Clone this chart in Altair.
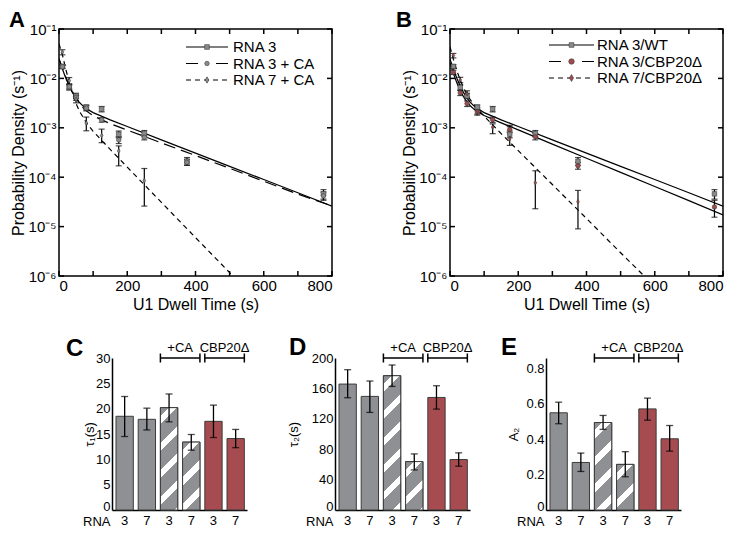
import altair as alt
import pandas as pd

FONT = "Liberation Sans"
GRAY = "#8e9093"
RED_BAR = "#a64c50"
RED_PT = "#a04a4c"
PT_GRAY = "#8a8a8a"
EDGE = "#3c3c3c"

# ---------------- data: panels A and B (binned dwell-time densities) ----------------
bin_t = [10, 30, 50, 80, 125, 175, 250, 375, 775]
bin_t7a = [10, 30, 50, 80, 125, 175, 250]
bin_t7b = [10, 30, 50, 80, 125, 175, 250, 375]

rna3_p = [0.0175, 0.0066, 0.0044, 0.0026, 0.0024, 0.00074, 0.00077, 0.00021, 0.000046]
rna3_lo = [0.0160, 0.0058, 0.0039, 0.0023, 0.0021, 0.00063, 0.00066, 0.000175, 0.000036]
rna3_hi = [0.0190, 0.0074, 0.0050, 0.0029, 0.0027, 0.00086, 0.00088, 0.00025, 0.000056]

rna3ca_p = [0.0172, 0.0068, 0.0041, 0.0025, 0.00145, 0.00057, 0.00064, 0.00020, 0.000042]
rna3ca_lo = [0.0158, 0.0061, 0.0036, 0.0022, 0.00130, 0.00048, 0.00057, 0.000175, 0.000034]
rna3ca_hi = [0.0186, 0.0075, 0.0046, 0.0028, 0.00160, 0.00066, 0.00072, 0.000230, 0.000050]

rna7ca_p = [0.034, 0.0090, 0.0038, 0.00125, 0.00070, 0.00034, 0.000085]
rna7ca_lo = [0.030, 0.0078, 0.0032, 0.00087, 0.00050, 0.00017, 0.000026]
rna7ca_hi = [0.038, 0.0104, 0.0045, 0.00165, 0.00094, 0.00043, 0.000150]

cbp3_p = [0.0133, 0.0051, 0.0031, 0.0021, 0.00146, 0.00092, 0.00066, 0.000170, 0.000025]
cbp3_lo = [0.0120, 0.0045, 0.0027, 0.0018, 0.00128, 0.00080, 0.00057, 0.000145, 0.0000155]
cbp3_hi = [0.0146, 0.0057, 0.0035, 0.0024, 0.00165, 0.00105, 0.00076, 0.000200, 0.000034]

cbp7_p = [0.029, 0.0093, 0.0049, 0.0022, 0.00103, 0.00060, 0.000077, 0.000032]
cbp7_lo = [0.026, 0.0082, 0.0042, 0.0019, 0.00076, 0.00044, 0.000023, 0.0000090]
cbp7_hi = [0.032, 0.0105, 0.0056, 0.0026, 0.00120, 0.00112, 0.000135, 0.000054]

# fitted curves
fit_t = [0, 10, 20, 30, 40, 50, 60, 70, 80, 100, 150, 200, 300, 400, 500, 600, 700, 800]
rna3_fit = [0.0246, 0.0155, 0.0101, 0.0070, 0.0051, 0.0040, 0.00325, 0.00278, 0.00246, 0.00203,
            0.00145, 0.00106, 0.00057, 0.000308, 0.000166, 0.0000897, 0.0000484, 0.000026]
rna3ca_fit = [0.0249, 0.0161, 0.0107, 0.0073, 0.0053, 0.0040, 0.00313, 0.00257, 0.00220, 0.00175,
              0.00121, 0.00090, 0.000495, 0.000275, 0.000151, 0.0000828, 0.0000455, 0.0000262]
cbp3_fit = [0.0204, 0.0126, 0.0082, 0.0057, 0.0042, 0.0033, 0.00276, 0.00239, 0.00213, 0.00178,
            0.00126, 0.000906, 0.000468, 0.000242, 0.000125, 0.0000647, 0.0000335, 0.0000173]
rna7ca_fit_t = [0, 10, 20, 30, 40, 50, 60, 80, 100, 150, 200, 300, 400, 500, 515]
rna7ca_fit = [0.050, 0.030, 0.0153, 0.0083, 0.0048, 0.0031, 0.00216, 0.00127, 0.00085, 0.000365,
              0.00016, 0.000031, 0.0000060, 0.00000117, 0.0000009]
cbp7_fit_t = [0, 10, 20, 30, 40, 50, 60, 70, 80, 100, 150, 200, 300, 400, 500, 575]
cbp7_fit = [0.0433, 0.0242, 0.0144, 0.0092, 0.0064, 0.0047, 0.00366, 0.00295, 0.00243, 0.00172,
            0.00076, 0.000345, 0.000071, 0.0000146, 0.00000295, 0.00000091]

legend_a = ["RNA 3", "RNA 3 + CA", "RNA 7 + CA"]
legend_b = ["RNA 3/WT", "RNA 3/CBP20Δ", "RNA 7/CBP20Δ"]

x_ticks = [0, 100, 200, 300, 400, 500, 600, 700, 800]
x_labels = [0, 200, 400, 600, 800]
y_decades = [1e-6, 1e-5, 1e-4, 1e-3, 1e-2, 1e-1]

# ---------------- data: panels C, D, E ----------------
groups = ["3", "7", "3+CA", "7+CA", "3Δ", "7Δ"]
kinds = ["plain", "plain", "hatch", "hatch", "red", "red"]

tau1 = [18.5, 17.9, 20.2, 13.4, 17.5, 14.1]
tau1_lo = [14.5, 15.8, 17.4, 11.8, 14.3, 12.3]
tau1_hi = [22.4, 20.1, 22.9, 14.9, 20.7, 15.9]

tau2 = [165.7, 149.5, 176.7, 63.7, 148.1, 66.4]
tau2_lo = [147.7, 128.4, 162.6, 52.7, 132.7, 57.6]
tau2_hi = [184.6, 169.7, 190.8, 73.8, 163.5, 75.2]

a2 = [0.55, 0.269, 0.495, 0.258, 0.572, 0.403]
a2_lo = [0.488, 0.218, 0.456, 0.188, 0.508, 0.333]
a2_hi = [0.61, 0.322, 0.535, 0.33, 0.633, 0.478]

brk_label = ["+CA", "CBP20Δ"]
brk_start = ["3+CA", "3Δ"]
brk_end = ["7+CA", "7Δ"]

# ---------------- geometry / style ----------------
W_TOP, H_TOP = 273, 247
BAR_W, BAR_H = 135, 152
PAD_IN, PAD_OUT, ALIGN = 0.22, 0.15, 0.6
STEP = BAR_W / (len(groups) - PAD_IN + 2 * PAD_OUT)
BW = STEP * (1 - PAD_IN)
GAP = STEP * PAD_IN

XS_TOP = alt.Scale(domain=[0, 800], nice=False, zero=False)
YS_TOP = alt.Scale(type="log", domain=[1e-6, 1e-1], nice=False)
XT = "U1 Dwell Time (s)"
YT = "Probability Density (s⁻¹)"
DIAMOND = "M0,-1L0.6,0L0,1L-0.6,0Z"

dummy = pd.DataFrame({"k": [0]})

points_a = [
    {"name": legend_a[0], "t": bin_t, "p": rna3_p, "lo": rna3_lo, "hi": rna3_hi,
     "shape": "square", "fill": PT_GRAY, "size": 22, "ew": 1.2},
    {"name": legend_a[1], "t": bin_t, "p": rna3ca_p, "lo": rna3ca_lo, "hi": rna3ca_hi,
     "shape": "circle", "fill": PT_GRAY, "size": 20, "ew": 1.2},
    {"name": legend_a[2], "t": bin_t7a, "p": rna7ca_p, "lo": rna7ca_lo, "hi": rna7ca_hi,
     "shape": DIAMOND, "fill": PT_GRAY, "size": 40, "ew": 1.4},
]
points_b = [
    {"name": legend_b[0], "t": bin_t, "p": rna3_p, "lo": rna3_lo, "hi": rna3_hi,
     "shape": "square", "fill": PT_GRAY, "size": 22, "ew": 1.2},
    {"name": legend_b[1], "t": bin_t, "p": cbp3_p, "lo": cbp3_lo, "hi": cbp3_hi,
     "shape": "circle", "fill": RED_PT, "size": 30, "ew": 1.2},
    {"name": legend_b[2], "t": bin_t7b, "p": cbp7_p, "lo": cbp7_lo, "hi": cbp7_hi,
     "shape": DIAMOND, "fill": RED_PT, "size": 48, "ew": 2.0},
]
ALL_PTS = points_a + points_b
ALL_NAMES = [s["name"] for s in ALL_PTS]


def sc(key):
    return alt.Scale(domain=ALL_NAMES, range=[s[key] for s in ALL_PTS])


def density_panel(points, fits, legend_rows, lg, letter, letter_x, letter_y):
    pts = pd.concat([pd.DataFrame({"series": s["name"], "t": s["t"], "p": s["p"],
                                   "lo": s["lo"], "hi": s["hi"]}) for s in points])

    x_axis = alt.Axis(values=x_labels, tickCount=len(x_labels), ticks=False, tickSize=0, domain=False,
                      grid=False, labelFontSize=15, labelPadding=2, titleFontSize=16,
                      titleFontWeight="normal", titlePadding=3)
    y_axis = alt.Axis(values=y_decades, tickCount=len(y_decades), ticks=False, tickSize=0, domain=False,
                      grid=False,
                      labelExpr="'10⁻' + ['⁰','¹','²','³','⁴','⁵','⁶'][round(-log(datum.value)/LN10)]",
                      labelFontSize=15, labelPadding=3, titleFontSize=16,
                      titleFontWeight="normal", titleX=-41, titleY=H_TOP / 2, titleAngle=270,
                      titleBaseline="middle", titleAlign="center")

    def X(f, **kw):
        return alt.X(f, scale=XS_TOP, title=XT, **kw)

    def Y(f, **kw):
        return alt.Y(f, scale=YS_TOP, title=YT, **kw)

    xt = pd.DataFrame({"t": x_ticks})
    yt = pd.DataFrame({"p": y_decades})
    tk = dict(color="black", strokeWidth=1.5)
    layers = [
        alt.Chart(xt).mark_rule(**tk).encode(x=X("t:Q", axis=x_axis), y=alt.value(H_TOP),
                                             y2=alt.value(H_TOP - 5)),
        alt.Chart(xt).mark_rule(**tk).encode(x=X("t:Q"), y=alt.value(0), y2=alt.value(5)),
        alt.Chart(yt).mark_rule(**tk).encode(y=Y("p:Q", axis=y_axis), x=alt.value(0), x2=alt.value(5)),
        alt.Chart(yt).mark_rule(**tk).encode(y=Y("p:Q"), x=alt.value(W_TOP), x2=alt.value(W_TOP - 5)),
    ]
    for f in fits:
        fdf = pd.DataFrame({"t": f["t"], "p": f["p"]})
        mk = dict(clip=True, color="black", strokeWidth=1.2)
        if f["dash"]:
            mk["strokeDash"] = f["dash"]
        layers.append(alt.Chart(fdf).mark_line(**mk).encode(x=X("t:Q"), y=Y("p:Q")))

    err = alt.Chart(pts).mark_rule(color="black").encode(
        x=X("t:Q"), y=Y("lo:Q"), y2="hi:Q",
        strokeWidth=alt.StrokeWidth("series:N", scale=sc("ew"), legend=None))
    cap_lo = alt.Chart(pts).mark_tick(color="black", orient="horizontal", size=6, thickness=1.2).encode(
        x=X("t:Q"), y=Y("lo:Q"))
    cap_hi = alt.Chart(pts).mark_tick(color="black", orient="horizontal", size=6, thickness=1.2).encode(
        x=X("t:Q"), y=Y("hi:Q"))
    dots = alt.Chart(pts).mark_point(filled=True, opacity=1, stroke=EDGE, strokeWidth=0.6).encode(
        x=X("t:Q"), y=Y("p:Q"),
        shape=alt.Shape("series:N", scale=sc("shape"), legend=None),
        color=alt.Color("series:N", scale=sc("fill"), legend=None),
        size=alt.Size("series:N", scale=sc("size"), legend=None),
    )
    layers += [err, cap_lo, cap_hi, dots]

    for i, (label, s, f) in enumerate(zip(legend_rows, points, lg["dash"])):
        ry = lg["rows"][i]
        mk = dict(color="black", strokeWidth=1.2)
        if f:
            mk["strokeDash"] = f
        layers.append(alt.Chart(dummy).mark_rule(**mk).encode(
            x=alt.value(lg["x0"]), x2=alt.value(lg["x1"]), y=alt.value(ry)))
        layers.append(alt.Chart(dummy).mark_point(filled=True, opacity=1, shape=s["shape"], size=s["size"],
                                                  fill=s["fill"], stroke=EDGE, strokeWidth=0.6).encode(
            x=alt.value((lg["x0"] + lg["x1"]) / 2), y=alt.value(ry)))
        layers.append(alt.Chart(dummy).mark_text(align="left", baseline="middle", fontSize=15, font=FONT,
                                                 color="black").encode(
            x=alt.value(lg["xt"]), y=alt.value(ry), text=alt.value(label)))

    layers.append(alt.Chart(dummy).mark_text(align="left", baseline="alphabetic", fontSize=22,
                                             fontWeight="bold", font=FONT, color="black").encode(
        x=alt.value(letter_x), y=alt.value(letter_y), text=alt.value(letter)))

    return alt.layer(*layers).properties(
        width=W_TOP, height=H_TOP,
        view=alt.ViewBackground(stroke="black", strokeWidth=1.5))


def hatch_gradient(w, h, period=27.0, white=0.32, phase=8.0):
    L = w + h
    k = L / (w * w + h * h)
    stops = [{"offset": 0, "color": GRAY}]
    s = phase - period
    while s < L:
        a, b = s, s + white * period
        if b > 0:
            o1 = round(max(0.0, a / L), 4)
            o2 = round(min(1.0, b / L), 4)
            stops += [{"offset": o1, "color": GRAY}, {"offset": o1, "color": "white"},
                      {"offset": o2, "color": "white"}, {"offset": o2, "color": GRAY}]
        s += period
    stops.append({"offset": 1, "color": GRAY})
    return {"gradient": "linear", "x1": 0, "y1": 0, "x2": round(k * w, 4), "y2": round(k * h, 4),
            "stops": stops}


def bar_panel(vals, lo, hi, dmax, yvals, ytitle, title_x, letter, letter_x, letter_y, ylabel_expr=None):
    df = pd.DataFrame({"g": groups, "v": vals, "lo": lo, "hi": hi, "kind": kinds})
    br = pd.DataFrame({"label": brk_label, "s": brk_start, "e": brk_end})
    xs = alt.Scale(domain=groups, paddingInner=PAD_IN, paddingOuter=PAD_OUT, align=ALIGN)
    ys = alt.Scale(domain=[0, dmax], nice=False, zero=True)
    xax = alt.Axis(labelExpr="slice(datum.value, 0, 1)", labelAngle=0, ticks=False, tickSize=0,
                   domainColor="black", domainWidth=1.5, labelFontSize=13, labelPadding=4,
                   labelOverlap=False,
                   titleAngle=0, titleAlign="right", titleX=-2, titleY=11.5, titleBaseline="middle",
                   titleFontSize=13, titleFontWeight="normal")
    ykw = dict(values=yvals, tickCount=len(yvals), ticks=False, tickSize=0, domainColor="black",
               domainWidth=1.5, labelFontSize=13, labelPadding=2, grid=False, labelOverlap=False,
               labelOffset={"condition": {"test": "datum.value == 0", "value": -3.5}, "value": 0},
               titleX=title_x, titleY=BAR_H / 2,
               titleAngle=270, titleBaseline="middle", titleAlign="center",
               titleFontSize=13, titleFontWeight="normal")
    if ylabel_expr:
        ykw["labelExpr"] = ylabel_expr
    yax = alt.Axis(**ykw)

    def X(f, **kw):
        return alt.X(f, scale=xs, title="RNA", **kw)

    def Y(f, **kw):
        return alt.Y(f, scale=ys, title=ytitle, **kw)

    bars = alt.Chart(df).mark_bar(stroke=EDGE, strokeWidth=1).encode(
        x=X("g:N", axis=xax), y=Y("v:Q", axis=yax),
        fill=alt.Fill("kind:N", scale=alt.Scale(domain=["plain", "hatch", "red"],
                                                range=[GRAY, GRAY, RED_BAR]), legend=None))
    layers = [bars]
    for gid, v, kd in zip(groups, vals, kinds):
        if kd == "hatch":
            h = v / dmax * BAR_H
            layers.append(alt.Chart(df[df["g"] == gid]).mark_bar(
                fill=hatch_gradient(BW, h), stroke=EDGE, strokeWidth=1).encode(x=X("g:N"), y=Y("v:Q")))
    layers.append(alt.Chart(df).mark_rule(color="black", strokeWidth=1.3).encode(
        x=X("g:N"), y=Y("lo:Q"), y2="hi:Q"))
    for f in ["lo:Q", "hi:Q"]:
        layers.append(alt.Chart(df).mark_tick(color="black", orient="horizontal", size=7,
                                              thickness=1.3).encode(x=X("g:N"), y=Y(f)))
    layers.append(alt.Chart(br).mark_rule(color="black", strokeWidth=1.5).encode(
        x=X("s:N", bandPosition=0), x2=alt.X2("e:N", bandPosition=1), y=alt.value(0)))
    layers.append(alt.Chart(br).mark_rule(color="black", strokeWidth=1.5).encode(
        x=X("s:N", bandPosition=0), y=alt.value(-4.5), y2=alt.value(4.5)))
    layers.append(alt.Chart(br).mark_rule(color="black", strokeWidth=1.5).encode(
        x=X("e:N", bandPosition=1), y=alt.value(-4.5), y2=alt.value(4.5)))
    layers.append(alt.Chart(br).mark_text(align="center", baseline="alphabetic", fontSize=13, font=FONT,
                                          color="black", dx=-GAP / 2).encode(
        x=X("e:N", bandPosition=0), y=alt.value(-6), text="label:N"))
    layers.append(alt.Chart(dummy).mark_text(align="left", baseline="alphabetic", fontSize=24,
                                             fontWeight="bold", font=FONT, color="black").encode(
        x=alt.value(letter_x), y=alt.value(letter_y), text=alt.value(letter)))
    return alt.layer(*layers).properties(width=BAR_W, height=BAR_H)


panel_a = density_panel(
    points=points_a,
    fits=[
        {"t": fit_t, "p": rna3_fit, "dash": None},
        {"t": fit_t, "p": rna3ca_fit, "dash": [12, 6]},
        {"t": rna7ca_fit_t, "p": rna7ca_fit, "dash": [5, 4]},
    ],
    legend_rows=legend_a,
    lg={"x0": 127, "x1": 169, "xt": 174, "rows": [18, 34.5, 51], "dash": [None, [12, 18], [5, 4]]},
    letter="A", letter_x=-50, letter_y=-2,
)

panel_b = density_panel(
    points=points_b,
    fits=[
        {"t": fit_t, "p": rna3_fit, "dash": None},
        {"t": fit_t, "p": cbp3_fit, "dash": None},
        {"t": cbp7_fit_t, "p": cbp7_fit, "dash": [5, 4]},
    ],
    legend_rows=legend_b,
    lg={"x0": 99, "x1": 144, "xt": 147, "rows": [16, 32.5, 49], "dash": [None, [12, 21], [5, 4]]},
    letter="B", letter_x=-54, letter_y=-2,
)

panel_c = bar_panel(tau1, tau1_lo, tau1_hi, 30, [0, 5, 10, 15, 20, 25, 30], "τ₁(s)", -23, "C", -46, -2)
panel_d = bar_panel(tau2, tau2_lo, tau2_hi, 200, [0, 40, 80, 120, 160, 200], "τ₂(s)", -42, "D", -46, -3)
panel_e = bar_panel(a2, a2_lo, a2_hi, 0.86, [0, 0.2, 0.4, 0.6, 0.8], "A₂", -33, "E", -45, -3,
                    ylabel_expr="datum.value == 0 ? '0' : format(datum.value, '.1f')")

spacer = alt.Chart(dummy).mark_point(opacity=0).encode(x=alt.value(0), y=alt.value(0)).properties(
    width=53, height=10)

top_row = alt.hconcat(panel_a, panel_b, spacing=118, bounds="flush")
bottom_row = alt.hconcat(
    spacer,
    alt.hconcat(panel_c, alt.hconcat(panel_d, panel_e, spacing=76, bounds="flush"),
                spacing=88, bounds="flush"),
    spacing=0, bounds="flush")

chart = alt.vconcat(top_row, bottom_row, spacing=22).properties(
    padding={"left": 0, "top": 0, "right": 0, "bottom": 0}
).configure(font=FONT).configure_view(stroke="transparent").configure_axis(
    labelColor="black", titleColor="black", labelFont=FONT, titleFont=FONT)

chart.save("out.html", embed_options={"renderer": "svg", "actions": False})
